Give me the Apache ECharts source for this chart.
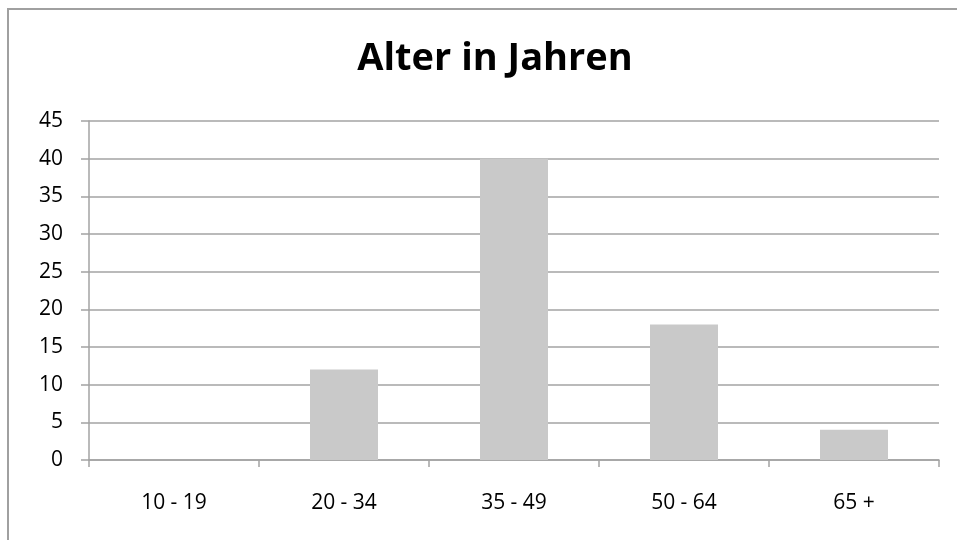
<!DOCTYPE html>
<html>
<head>
<meta charset="utf-8">
<script src="https://cdn.jsdelivr.net/npm/echarts@6/dist/echarts.min.js"></script>
<style>
  html, body { margin: 0; padding: 0; background: #ffffff; }
  #chart { width: 957px; height: 540px; }
</style>
</head>
<body>
<div id="chart"></div>
<script>
// Age groups and number of respondents per group
const categories = ['10 - 19', '20 - 34', '35 - 49', '50 - 64', '65 +'];
const counts = [0, 12, 40, 18, 4];
const chartTitle = 'Alter in Jahren';

const FONT = '"Open Sans", "Liberation Sans", sans-serif';
const LINE = '#a3a3a3';

const chart = echarts.init(document.getElementById('chart'), null, { renderer: 'canvas' });

chart.setOption({
  animation: false,
  backgroundColor: '#ffffff',
  title: {
    text: chartTitle,
    left: 490,
    textAlign: 'center',
    top: 35,
    textStyle: { fontFamily: FONT, fontSize: 38, fontWeight: 'bold', color: '#000000' }
  },
  graphic: [{
    type: 'rect',
    shape: { x: 8, y: 9, width: 1000, height: 600 },
    style: { fill: 'none', stroke: '#a0a0a0', lineWidth: 2 },
    silent: true,
    z: -1
  }],
  grid: { left: 89, right: 18, top: 121, bottom: 80, containLabel: false },
  xAxis: {
    type: 'category',
    data: categories,
    boundaryGap: true,
    axisLine: { show: true, lineStyle: { color: LINE, width: 1.5 } },
    axisTick: { show: true, alignWithLabel: false, length: 7, lineStyle: { color: LINE, width: 1.5 } },
    axisLabel: { fontFamily: FONT, fontSize: 21, color: '#000000', margin: 33 },
    splitLine: { show: false }
  },
  yAxis: {
    type: 'value',
    min: 0,
    max: 45,
    interval: 5,
    axisLine: { show: true, lineStyle: { color: LINE, width: 1.5 } },
    axisTick: { show: true, length: 8, lineStyle: { color: LINE, width: 1.5 } },
    axisLabel: { fontFamily: FONT, fontSize: 21, color: '#000000', margin: 26 },
    splitLine: { show: true, lineStyle: { color: LINE, width: 1.5 } }
  },
  series: [{
    type: 'bar',
    data: counts,
    barWidth: '40%',
    itemStyle: { color: '#c9c9c9', borderWidth: 0 }
  }]
});
</script>
</body>
</html>
